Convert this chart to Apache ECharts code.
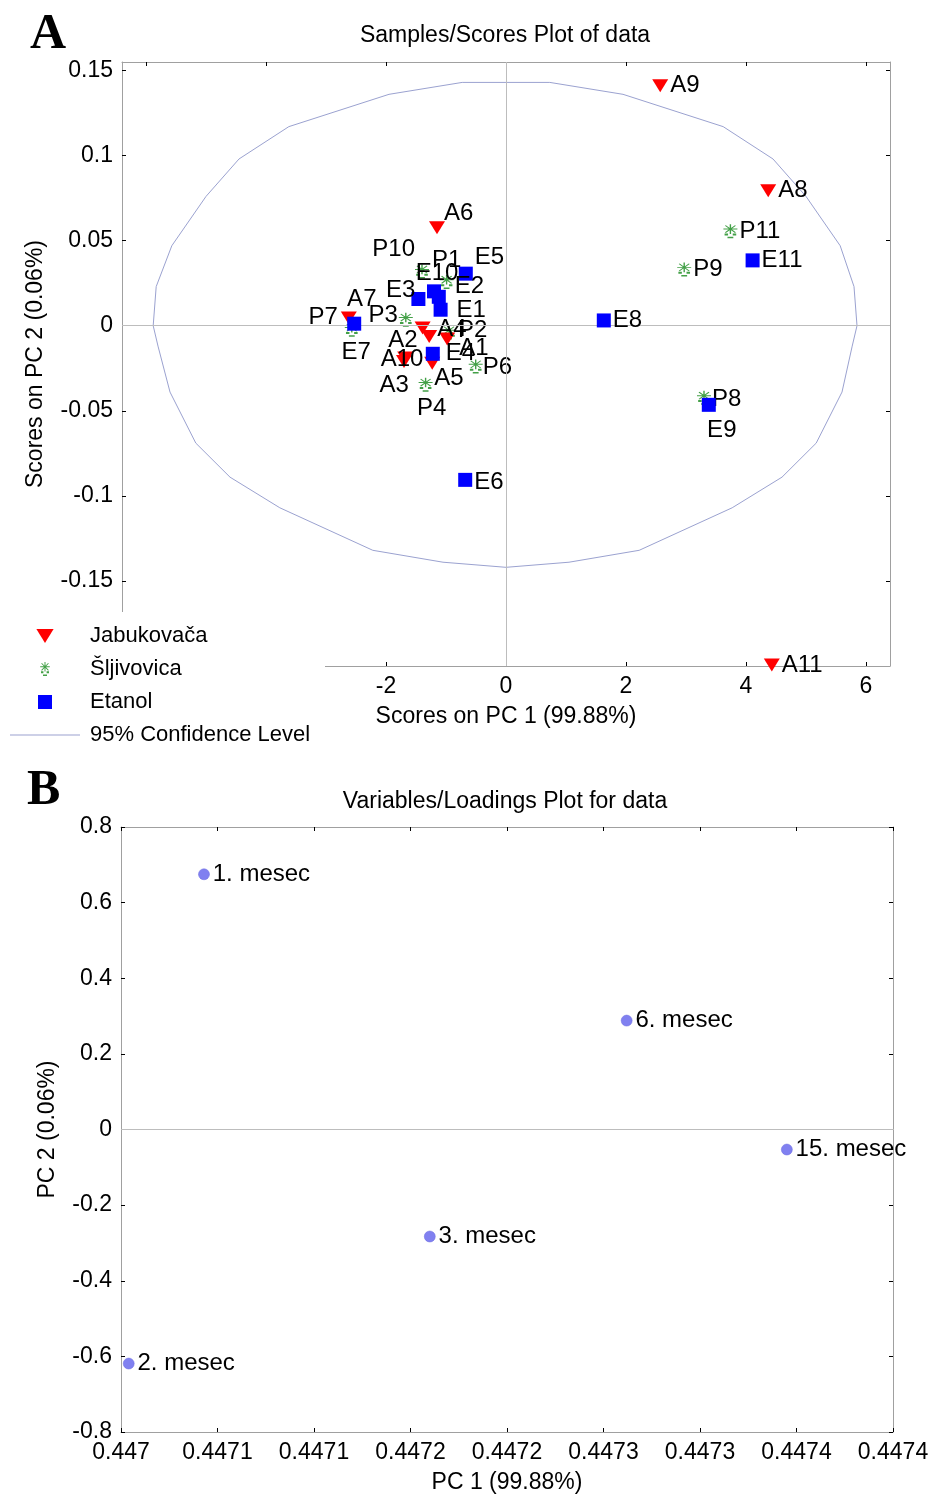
<!DOCTYPE html>
<html>
<head>
<meta charset="utf-8">
<script src="https://cdn.jsdelivr.net/npm/echarts@6/dist/echarts.min.js"></script>
<style>
html,body{margin:0;padding:0;background:#fff}
#main{width:929px;height:1496px}
</style>
</head>
<body>
<div id="main"></div>
<script>
// ---- panel A: scores ----
var jabNames = ['A1','A2','A3','A4','A5','A6','A7','A8','A9','A10','A11']
var jabPC1 = [-0.98,-1.39,-1.68,-1.28,-1.23,-1.15,-2.62,4.37,2.57,-1.70,4.43]
var jabPC2 = [-0.0078,-0.0014,-0.019,-0.0063,-0.022,0.0576,0.0045,0.0794,0.141,-0.021,-0.1994]

var sljNames = ['P1','P2','P3','P4','P6','P7','P8','P9','P10','P11']
var sljPC1 = [-0.99,-0.95,-1.67,-1.34,-0.505,-2.57,3.30,2.97,-1.40,3.74]
var sljPC2 = [0.0257,-0.004,0.0035,-0.0347,-0.024,-0.0024,-0.0424,0.033,0.0318,0.0555]

var etaNames = ['E1','E2','E3','E4','E5','E6','E7','E8','E9','E10','E11']
var etaPC1 = [-1.09,-1.12,-1.46,-1.22,-0.67,-0.68,-2.53,1.63,3.38,-1.20,4.11]
var etaPC2 = [0.0094,0.017,0.0157,-0.0165,0.0306,-0.0906,0.0012,0.0031,-0.0465,0.0202,0.0384]

// 95% confidence ellipse, vertices
var ellPC1 = [-5.88,-5.83,-5.57,-5.0,-4.45,-3.62,-1.95,-0.73,0,0.73,1.95,3.62,4.45,5.0,5.57,5.8,5.85,5.77,5.6,5.17,4.6,3.77,2.22,1.05,0,-1.05,-2.22,-3.77,-4.6,-5.17,-5.6,-5.8,-5.88]
var ellPC2 = [0,0.023,0.047,0.076,0.098,0.117,0.136,0.143,0.143,0.143,0.136,0.117,0.098,0.076,0.047,0.023,0,-0.012,-0.039,-0.069,-0.089,-0.107,-0.132,-0.139,-0.142,-0.139,-0.132,-0.107,-0.089,-0.069,-0.039,-0.012,0]

var scoreXTicks = [-6,-4,-2,0,2,4,6]
var scoreYTicks = [-0.15,-0.1,-0.05,0,0.05,0.1,0.15]
var scoreYLabels = ['-0.15','-0.1','-0.05','0','0.05','0.1','0.15']

// ---- panel B: loadings ----
var monthNames = ['1. mesec','2. mesec','3. mesec','6. mesec','15. mesec']
var loadPC1 = [0.447043,0.447004,0.447160,0.447262,0.447345]
var loadPC2 = [0.675,-0.619,-0.283,0.288,-0.053]

var loadXTicks = [0.447,0.44705,0.4471,0.44715,0.4472,0.44725,0.4473,0.44735,0.4474]
var loadXLabels = ['0.447','0.4471','0.4471','0.4472','0.4472','0.4473','0.4473','0.4474','0.4474']
var loadYTicks = [-0.8,-0.6,-0.4,-0.2,0,0.2,0.4,0.6,0.8]
var loadYLabels = ['-0.8','-0.6','-0.4','-0.2','0','0.2','0.4','0.6','0.8']

// label placement in the score plot: [position, dx, dy]
var labelPlace = {
  A6:['right',-3,-14], P10:['left',2,-22], P1:['top',0,-1], E5:['right',0,-16],
  E10:['top',3,3], E2:['right',7,-10], E3:['left',6,-9], E1:['right',7,1],
  A7:['top',13,2], P7:['left',-5,-12], E7:['bottom',2,8], P3:['left',1,-4],
  A2:['left',5,12], A4:['right',-2,-7], P2:['right',0,-2], A1:['right',2,9],
  A10:['inside',-2,-2], A3:['bottom',-11,7], E4:['right',4,0], A5:['right',-8,15],
  P6:['right',-2,1], P4:['bottom',6,3], E9:['bottom',13,5], P8:['right',-1,2], E6:['right',0,3]
}

var FONT = '"Liberation Sans", Arial, sans-serif'
var triDown = 'path://M0,0 L16,0 L8,13 Z'
var square = 'path://M0,0 L10,0 L10,10 L0,10 Z'
var plum = 'path://M9.4,1 L10.6,1 L10.6,13 L9.4,13 Z M4,6.4 L16,6.4 L16,7.6 L4,7.6 Z M5.3,2.9 L6.1,2.1 L14.7,11.1 L13.9,11.9 Z M13.9,2.1 L14.7,2.9 L6.1,11.9 L5.3,11.1 Z M5,12.5 L8,12.5 L8,15 L5,15 Z M12,12.5 L15,12.5 L15,15 L12,15 Z M7.5,16.5 L12.5,16.5 L12.5,18.5 L7.5,18.5 Z'
var lineIcon = 'path://M0,0 L70,0 L70,1 L0,1 Z'

function pts(names, xs, ys) {
  return names.map(function (n, i) {
    var p = labelPlace[n] || ['right', 0, 0]
    return { name: n, value: [xs[i], ys[i]], label: { position: p[0], offset: [p[1], p[2]] } }
  })
}

function pairs(xs, ys) {
  return xs.map(function (x, i) { return [x, ys[i]] })
}

function lookup(ticks, labels) {
  return function (v) {
    var best = 0
    for (var i = 0; i < ticks.length; i++) {
      if (Math.abs(ticks[i] - v) < Math.abs(ticks[best] - v)) best = i
    }
    return labels[best]
  }
}

function axis(o) {
  var base = {
    type: 'value',
    axisLine: { show: true, onZero: false, lineStyle: { color: '#a0a0a0', width: 1 } },
    axisTick: { show: true, inside: true, length: 4, lineStyle: { color: '#000' } },
    axisLabel: { show: true, color: '#000', fontSize: 23, fontFamily: FONT, margin: 9 },
    splitLine: { show: false },
    nameTextStyle: { color: '#000', fontSize: 23, fontFamily: FONT },
    nameLocation: 'middle'
  }
  for (var k in o) {
    if (typeof o[k] === 'object' && base[k] && !Array.isArray(o[k])) {
      base[k] = Object.assign({}, base[k], o[k])
    } else base[k] = o[k]
  }
  return base
}

var labelStyle = { show: true, formatter: '{b}', color: '#000', fontSize: 24, fontFamily: FONT, distance: 2 }

var chart = echarts.init(document.getElementById('main'), null, { renderer: 'canvas' })
var option = {
  animation: false,
  backgroundColor: '#fff',
  grid: [
    { left: 122, top: 62, width: 768, height: 604, outerBoundsMode: 'none', containLabel: false },
    { left: 121, top: 827, width: 772, height: 605, outerBoundsMode: 'none', containLabel: false }
  ],
  xAxis: [
    axis({ gridIndex: 0, position: 'bottom', min: -6.4, max: 6.4,
      axisTick: { customValues: scoreXTicks }, axisLabel: { customValues: scoreXTicks },
      name: 'Scores on PC 1 (99.88%)', nameGap: 39 }),
    axis({ gridIndex: 0, position: 'top', min: -6.4, max: 6.4,
      axisTick: { customValues: scoreXTicks }, axisLabel: { show: false } }),
    axis({ gridIndex: 1, position: 'bottom', min: 0.447, max: 0.4474,
      axisTick: { customValues: loadXTicks },
      axisLabel: { customValues: loadXTicks, formatter: lookup(loadXTicks, loadXLabels) },
      name: 'PC 1 (99.88%)', nameGap: 39 }),
    axis({ gridIndex: 1, position: 'top', min: 0.447, max: 0.4474,
      axisTick: { customValues: loadXTicks }, axisLabel: { show: false } })
  ],
  yAxis: [
    axis({ gridIndex: 0, position: 'left', min: -0.2, max: 0.155,
      axisTick: { customValues: scoreYTicks },
      axisLabel: { customValues: scoreYTicks, formatter: lookup(scoreYTicks, scoreYLabels) },
      name: 'Scores on PC 2 (0.06%)', nameGap: 75 }),
    axis({ gridIndex: 0, position: 'right', min: -0.2, max: 0.155,
      axisTick: { customValues: scoreYTicks }, axisLabel: { show: false } }),
    axis({ gridIndex: 1, position: 'left', min: -0.8, max: 0.8,
      axisTick: { customValues: loadYTicks },
      axisLabel: { customValues: loadYTicks, formatter: lookup(loadYTicks, loadYLabels) },
      name: 'PC 2 (0.06%)', nameGap: 62 }),
    axis({ gridIndex: 1, position: 'right', min: -0.8, max: 0.8,
      axisTick: { customValues: loadYTicks }, axisLabel: { show: false } })
  ],
  legend: {
    data: [
      { name: 'Jabukovača', icon: triDown },
      { name: 'Šljivovica', icon: plum },
      { name: 'Etanol', icon: square },
      { name: '95% Confidence Level', icon: lineIcon }
    ],
    orient: 'vertical', left: 10, top: 625, z: 60,
    itemWidth: 70, itemHeight: 14, itemGap: 11, selectedMode: false,
    padding: 0,
    textStyle: { color: '#000', fontSize: 22, fontFamily: FONT, lineHeight: 22, padding: [0, 0, 0, 5] }
  },
  graphic: [
    { type: 'rect', z: 50, shape: { x: 0, y: 612, width: 325, height: 140 }, style: { fill: '#fff' } },
    { type: 'text', z: 70, x: 30, y: 35, style: { text: 'A', font: 'bold 50px "Liberation Serif", "Times New Roman", serif', fill: '#000', align: 'left', verticalAlign: 'middle' } },
    { type: 'text', z: 70, x: 27, y: 791, style: { text: 'B', font: 'bold 50px "Liberation Serif", "Times New Roman", serif', fill: '#000', align: 'left', verticalAlign: 'middle' } },
    { type: 'text', z: 70, x: 505, y: 36, style: { text: 'Samples/Scores Plot of data', font: '23px ' + FONT, fill: '#000', align: 'center', verticalAlign: 'middle' } },
    { type: 'text', z: 70, x: 505, y: 802, style: { text: 'Variables/Loadings Plot for data', font: '23px ' + FONT, fill: '#000', align: 'center', verticalAlign: 'middle' } }
  ],
  series: [
    {
      name: '95% Confidence Level', type: 'line', xAxisIndex: 0, yAxisIndex: 0,
      data: pairs(ellPC1, ellPC2), symbol: 'none', showSymbol: false, smooth: false,
      lineStyle: { color: '#9ba2d0', width: 1 }, itemStyle: { color: '#9ba2d0' }, z: 1,
      markLine: {
        silent: true, symbol: ['none', 'none'], label: { show: false },
        lineStyle: { color: '#bdbdbd', width: 1, type: 'solid' },
        data: [{ xAxis: 0 }, { yAxis: 0 }]
      }
    },
    {
      name: 'Šljivovica', type: 'scatter', xAxisIndex: 0, yAxisIndex: 0,
      symbol: plum, symbolSize: [14, 14], itemStyle: { color: '#43a047', opacity: 1 },
      label: labelStyle, data: pts(sljNames, sljPC1, sljPC2), z: 3
    },
    {
      name: 'Jabukovača', type: 'scatter', xAxisIndex: 0, yAxisIndex: 0,
      symbol: triDown, symbolSize: [16, 13], itemStyle: { color: '#ff0000', opacity: 1 },
      label: labelStyle, data: pts(jabNames, jabPC1, jabPC2), z: 4
    },
    {
      name: 'Etanol', type: 'scatter', xAxisIndex: 0, yAxisIndex: 0,
      symbol: square, symbolSize: 14, itemStyle: { color: '#0000ff', opacity: 1 },
      label: labelStyle, data: pts(etaNames, etaPC1, etaPC2), z: 5
    },
    {
      name: 'loadings', type: 'scatter', xAxisIndex: 2, yAxisIndex: 2,
      symbol: 'circle', symbolSize: 11,
      itemStyle: { color: '#8080f0', borderColor: '#6b6be0', borderWidth: 0.5, opacity: 1 },
      label: { show: true, position: 'right', formatter: '{b}', color: '#000', fontSize: 24, fontFamily: FONT, distance: 3 },
      data: monthNames.map(function (n, i) { return { name: n, value: [loadPC1[i], loadPC2[i]] } }),
      markLine: {
        silent: true, symbol: ['none', 'none'], label: { show: false },
        lineStyle: { color: '#bdbdbd', width: 1, type: 'solid' },
        data: [{ yAxis: 0 }]
      }
    }
  ]
}
chart.setOption(option)
</script>
</body>
</html>
